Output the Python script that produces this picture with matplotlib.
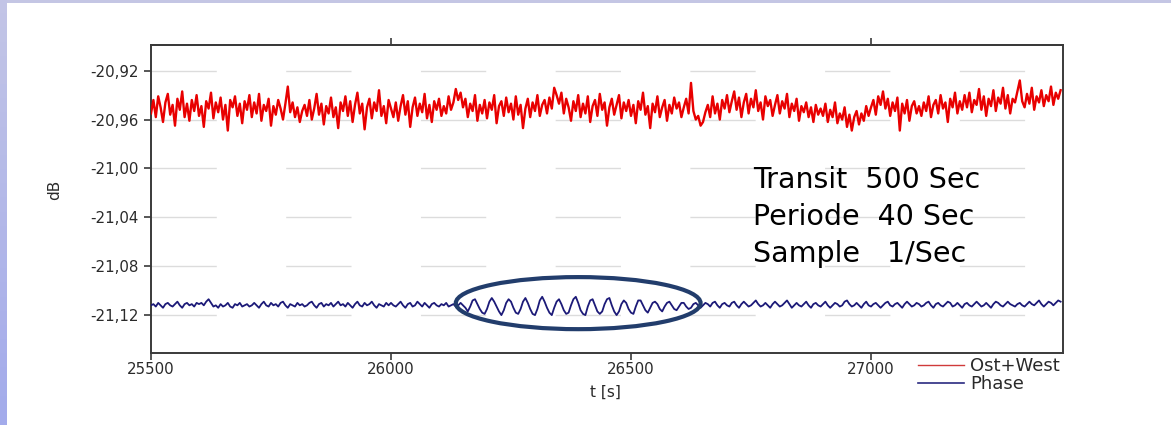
import numpy as np
import matplotlib
matplotlib.use("Agg")
import matplotlib.pyplot as plt
from matplotlib.patches import Ellipse, Rectangle
from matplotlib.lines import Line2D
from matplotlib.ticker import FuncFormatter

# ---------------- data ----------------
t_start = 25500          # s
t_step = 5               # s between listed samples

ost_west = [
    -20.955, -20.944, -20.958, -20.941, -20.950, -20.962, -20.946, -20.939, -20.956, -20.948, -20.965, -20.943, -20.952, -20.937, -20.958, -20.947, -20.961, -20.944, -20.953, -20.940,
    -20.957, -20.949, -20.966, -20.945, -20.951, -20.938, -20.959, -20.946, -20.954, -20.942, -20.960, -20.948, -20.969, -20.944, -20.950, -20.941, -20.957, -20.947, -20.963, -20.945,
    -20.952, -20.940, -20.958, -20.946, -20.955, -20.939, -20.961, -20.948, -20.953, -20.943, -20.965, -20.949, -20.956, -20.944, -20.951, -20.960, -20.947, -20.933, -20.954, -20.946,
    -20.958, -20.950, -20.962, -20.953, -20.948, -20.957, -20.944, -20.960, -20.951, -20.939, -20.956, -20.947, -20.964, -20.949, -20.955, -20.942, -20.958, -20.950, -20.967, -20.946,
    -20.953, -20.941, -20.957, -20.945, -20.962, -20.948, -20.938, -20.955, -20.947, -20.968, -20.950, -20.943, -20.959, -20.946, -20.953, -20.936, -20.957, -20.949, -20.963, -20.944,
    -20.951, -20.958, -20.946, -20.961, -20.949, -20.940, -20.956, -20.945, -20.966, -20.950, -20.942, -20.957, -20.947, -20.954, -20.939, -20.959, -20.948, -20.962, -20.945, -20.952,
    -20.943, -20.957, -20.949, -20.955, -20.941, -20.952, -20.946, -20.935, -20.944, -20.938, -20.950, -20.943, -20.958, -20.947, -20.953, -20.940, -20.961, -20.948, -20.955, -20.944,
    -20.959, -20.946, -20.952, -20.940, -20.963, -20.949, -20.945, -20.957, -20.942, -20.954, -20.947, -20.960, -20.941, -20.956, -20.948, -20.967, -20.951, -20.943, -20.958, -20.946,
    -20.953, -20.940, -20.957, -20.948, -20.944, -20.955, -20.942, -20.951, -20.934, -20.940, -20.947, -20.938, -20.955, -20.943, -20.950, -20.961, -20.945, -20.953, -20.940, -20.958,
    -20.947, -20.955, -20.941, -20.962, -20.949, -20.944, -20.957, -20.939, -20.952, -20.946, -20.965, -20.950, -20.943, -20.956, -20.948, -20.940, -20.959, -20.946, -20.953, -20.944,
    -20.957, -20.948, -20.963, -20.945, -20.952, -20.938, -20.956, -20.949, -20.967, -20.947, -20.954, -20.941, -20.958, -20.950, -20.944, -20.961, -20.948, -20.955, -20.942, -20.951,
    -20.946, -20.958, -20.950, -20.943, -20.955, -20.930, -20.953, -20.960, -20.957, -20.965, -20.962, -20.954, -20.948, -20.958, -20.941, -20.955, -20.947, -20.960, -20.944, -20.951,
    -20.940, -20.954, -20.945, -20.937, -20.952, -20.942, -20.958, -20.946, -20.939, -20.955, -20.943, -20.950, -20.936, -20.953, -20.946, -20.960, -20.941, -20.949, -20.944, -20.957,
    -20.948, -20.940, -20.955, -20.945, -20.951, -20.939, -20.958, -20.947, -20.953, -20.943, -20.961, -20.949, -20.954, -20.946, -20.958, -20.950, -20.962, -20.948, -20.956, -20.951,
    -20.957, -20.947, -20.962, -20.952, -20.958, -20.946, -20.963, -20.955, -20.960, -20.950, -20.966, -20.956, -20.969, -20.958, -20.953, -20.964, -20.955, -20.961, -20.949, -20.957,
    -20.950, -20.944, -20.956, -20.941, -20.948, -20.937, -20.951, -20.943, -20.957, -20.946, -20.953, -20.942, -20.969, -20.947, -20.955, -20.944, -20.961, -20.949, -20.945, -20.955,
    -20.949, -20.957, -20.946, -20.953, -20.941, -20.958, -20.948, -20.944, -20.955, -20.940, -20.951, -20.946, -20.962, -20.943, -20.950, -20.938, -20.955, -20.945, -20.952, -20.940,
    -20.950, -20.938, -20.954, -20.944, -20.948, -20.935, -20.952, -20.941, -20.957, -20.943, -20.949, -20.936, -20.953, -20.942, -20.947, -20.934, -20.951, -20.940, -20.955, -20.943,
    -20.946, -20.937, -20.928, -20.945, -20.950, -20.939, -20.947, -20.934, -20.952, -20.941, -20.946, -20.936, -20.949, -20.940, -20.945, -20.933, -20.948, -20.938, -20.943, -20.936,
]

phase = [
    -21.112, -21.111, -21.113, -21.110, -21.112, -21.114, -21.111, -21.110, -21.112, -21.113, -21.111, -21.109, -21.112, -21.114, -21.111, -21.110, -21.112, -21.111, -21.113, -21.110,
    -21.111, -21.110, -21.112, -21.109, -21.107, -21.110, -21.113, -21.112, -21.114, -21.111, -21.113, -21.112, -21.110, -21.113, -21.114, -21.111, -21.112, -21.110, -21.113, -21.112,
    -21.111, -21.113, -21.112, -21.110, -21.112, -21.114, -21.111, -21.109, -21.112, -21.113, -21.110, -21.112, -21.111, -21.113, -21.110, -21.109, -21.112, -21.114, -21.111, -21.112,
    -21.113, -21.110, -21.112, -21.111, -21.113, -21.112, -21.110, -21.109, -21.112, -21.114, -21.111, -21.110, -21.113, -21.111, -21.112, -21.110, -21.113, -21.111, -21.109, -21.112,
    -21.111, -21.113, -21.110, -21.112, -21.114, -21.111, -21.109, -21.112, -21.113, -21.110, -21.112, -21.111, -21.109, -21.112, -21.114, -21.111, -21.112, -21.113, -21.110, -21.112,
    -21.110, -21.112, -21.113, -21.111, -21.109, -21.112, -21.114, -21.111, -21.110, -21.113, -21.112, -21.109, -21.111, -21.113, -21.110, -21.112, -21.114, -21.111, -21.110, -21.112,
    -21.113, -21.111, -21.112, -21.110, -21.113, -21.112, -21.111, -21.113, -21.112, -21.110, -21.112, -21.114, -21.117, -21.113, -21.108, -21.107, -21.111, -21.115, -21.118, -21.119,
    -21.115, -21.109, -21.106, -21.109, -21.113, -21.117, -21.120, -21.116, -21.110, -21.107, -21.109, -21.114, -21.118, -21.119, -21.115, -21.109, -21.106, -21.110, -21.115, -21.119,
    -21.120, -21.115, -21.108, -21.105, -21.109, -21.114, -21.118, -21.120, -21.114, -21.109, -21.107, -21.111, -21.116, -21.119, -21.118, -21.112, -21.107, -21.105, -21.110, -21.116,
    -21.119, -21.120, -21.113, -21.108, -21.107, -21.112, -21.117, -21.119, -21.117, -21.111, -21.107, -21.106, -21.112, -21.117, -21.120, -21.117, -21.111, -21.108, -21.110, -21.115,
    -21.118, -21.119, -21.113, -21.108, -21.108, -21.112, -21.116, -21.118, -21.114, -21.110, -21.109, -21.111, -21.115, -21.117, -21.113, -21.110, -21.109, -21.112, -21.115, -21.116,
    -21.113, -21.110, -21.110, -21.113, -21.115, -21.114, -21.111, -21.110, -21.112, -21.114, -21.112, -21.110, -21.111, -21.113, -21.110, -21.109, -21.112, -21.114, -21.111, -21.110,
    -21.112, -21.113, -21.110, -21.109, -21.112, -21.114, -21.111, -21.109, -21.111, -21.113, -21.112, -21.110, -21.108, -21.111, -21.113, -21.112, -21.110, -21.112, -21.114, -21.111,
    -21.109, -21.111, -21.113, -21.112, -21.110, -21.108, -21.111, -21.114, -21.112, -21.110, -21.112, -21.113, -21.111, -21.109, -21.112, -21.114, -21.111, -21.110, -21.112, -21.113,
    -21.111, -21.109, -21.112, -21.114, -21.112, -21.110, -21.111, -21.113, -21.112, -21.109, -21.108, -21.111, -21.113, -21.112, -21.110, -21.112, -21.114, -21.111, -21.109, -21.112,
    -21.113, -21.111, -21.110, -21.112, -21.114, -21.112, -21.110, -21.109, -21.112, -21.113, -21.111, -21.110, -21.112, -21.114, -21.111, -21.109, -21.111, -21.113, -21.112, -21.110,
    -21.111, -21.113, -21.112, -21.110, -21.109, -21.112, -21.114, -21.111, -21.110, -21.112, -21.113, -21.111, -21.109, -21.110, -21.113, -21.112, -21.110, -21.112, -21.114, -21.111,
    -21.110, -21.112, -21.113, -21.111, -21.109, -21.111, -21.113, -21.112, -21.110, -21.112, -21.114, -21.111, -21.109, -21.110, -21.112, -21.113, -21.111, -21.109, -21.111, -21.112,
    -21.113, -21.111, -21.110, -21.112, -21.113, -21.111, -21.109, -21.111, -21.112, -21.110, -21.108, -21.111, -21.113, -21.111, -21.109, -21.110, -21.112, -21.110, -21.108, -21.109,
]

series_labels = ["Ost+West", "Phase"]
x_ticks = [25500, 26000, 26500, 27000]
x_ticks_top = [26000, 27000]
y_ticks = [-20.92, -20.96, -21.00, -21.04, -21.08, -21.12]
info_lines = ["Transit  500 Sec", "Periode  40 Sec", "Sample   1/Sec"]
x_label = "t [s]"
y_label = "dB"

# ---------------- figure ----------------
plt.rcParams['font.family'] = ['DejaVu Sans']
W, H, DPI = 1171, 425, 100
fig = plt.figure(figsize=(W / DPI, H / DPI), dpi=DPI, facecolor='white')

# lavender frame at the left / top edge
fig.patches.append(Rectangle((0, 1 - 3 / H), 1, 3 / H, transform=fig.transFigure,
                             facecolor='#c4c6e4', edgecolor='none', zorder=0))
n_strip = 30
for k in range(n_strip):
    f = k / (n_strip - 1)
    col = (0.76 - 0.12 * f, 0.77 - 0.10 * f, 0.90 + 0.02 * f)
    fig.patches.append(Rectangle((0, 1 - (k + 1) / n_strip), 7 / W, 1 / n_strip + 0.002,
                                 transform=fig.transFigure, facecolor=col,
                                 edgecolor='none', zorder=0))

ax_l, ax_r, ax_t, ax_b = 151, 1063, 45, 353
ax = fig.add_axes([ax_l / W, 1 - ax_b / H, (ax_r - ax_l) / W, (ax_b - ax_t) / H])

ax.plot(t_start + t_step * np.arange(len(ost_west)), ost_west,
        color='#e80000', lw=1.7, zorder=3)
ax.plot(t_start + t_step * np.arange(len(phase)), phase,
        color='#1c1a78', lw=1.3, zorder=3)

ax.set_xlim(25500, 27400)
ax.set_ylim(-21.151, -20.899)

ax.set_yticks(y_ticks)
ax.yaxis.set_major_formatter(FuncFormatter(lambda v, p: f"{v:.2f}".replace('.', ',')))
ax.set_xticks(x_ticks)
ax.xaxis.set_major_formatter(FuncFormatter(lambda v, p: f"{int(round(v))}"))

for yv in y_ticks:
    ax.axhline(yv, color='#dcdcdc', lw=1.0, dashes=(47, 50), zorder=1)

for s in ax.spines.values():
    s.set_color('#3a3a3a')
    s.set_linewidth(1.4)

ax.tick_params(axis='both', direction='out', length=5, width=1.2, color='#3a3a3a',
               labelsize=10.8, labelcolor='#2a2a2a', pad=4)
ax.tick_params(axis='x', pad=1.5)

secx = ax.secondary_xaxis('top')
secx.set_xticks(x_ticks_top)
secx.tick_params(direction='out', length=5, width=1.2, color='#3a3a3a', labeltop=False)
secx.spines['top'].set_color('#3a3a3a')
secx.spines['top'].set_linewidth(1.4)

ax.set_xlabel(x_label, fontsize=11, color='#2a2a2a')
ax.xaxis.set_label_coords((605 - ax_l) / (ax_r - ax_l), -(385 - ax_b) / (ax_b - ax_t))
ax.set_ylabel(y_label, fontsize=11, color='#2a2a2a')
ax.yaxis.set_label_coords(-(151 - 62) / (ax_r - ax_l), (ax_b - 190) / (ax_b - ax_t))

# highlight ellipse round the 40 s oscillation
ell = Ellipse((26390, -21.1102), width=510, height=0.0426, fill=False,
              edgecolor='#223d6c', lw=3.0, zorder=4)
ax.add_patch(ell)

# info text
for ytxt, line in zip([188, 225, 262], info_lines):
    fig.text(753 / W, 1 - ytxt / H, line, fontsize=20.5, color='black',
             ha='left', va='baseline')

# legend
handles = [Line2D([], [], color='#d03a3a', lw=1.0),
           Line2D([], [], color='#2a2a80', lw=1.2)]
fig.legend(handles, series_labels, loc='upper left',
           bbox_to_anchor=(918 / W, 1 - 357 / H), frameon=False, fontsize=13,
           handlelength=2.55, handletextpad=0.33, labelspacing=0.0,
           borderpad=0, borderaxespad=0, labelcolor='#2a2a2a')

fig.savefig('out.png', dpi=DPI, facecolor='white')
